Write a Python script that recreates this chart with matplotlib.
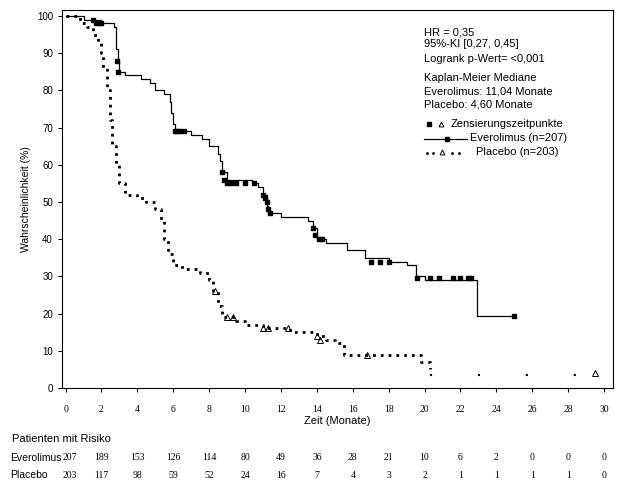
import numpy as np
import matplotlib.pyplot as plt

# Everolimus step curve (time in months, survival %)
evero_t = [0, 1.0, 2.0, 2.7, 2.8, 2.9, 3.0, 3.3, 4.2, 4.7, 5.0, 5.5, 5.8, 5.9, 6.0, 6.1, 7.0, 7.6, 8.0,
           8.5, 8.6, 8.7, 9.0, 10.4, 10.7, 11.0, 11.2, 11.3, 12.0, 13.5, 13.8, 14.0, 14.5, 15.7, 16.7,
           18.0, 19.0, 19.5, 20.0, 22.9, 25.0]
evero_s = [100, 99, 98, 97, 91, 88, 85, 84, 83, 82, 80, 79, 77, 74, 71, 69, 68, 67, 65,
           63, 61, 58, 56, 55, 54, 52, 49, 47, 46, 45, 43, 40, 39, 37, 35,
           34, 33, 30, 29, 19.3, 19.3]
evero_cens_t = [1.5, 1.7, 1.9, 2.0, 2.85, 2.9, 6.1, 6.2, 6.4, 6.6, 8.7, 8.8, 9.0, 9.2, 9.5, 10.0, 10.5,
                11.0, 11.1, 11.2, 11.3, 11.4, 13.8, 13.9, 14.1, 14.3, 17.0, 17.5, 18.0, 19.6, 20.3,
                20.8, 21.6, 22.0, 22.4, 22.6, 25.0]
evero_cens_s = [99, 98, 98, 98, 88, 85, 69, 69, 69, 69, 58, 56, 55, 55, 55, 55, 55,
                52, 51, 50, 48, 47, 43, 41, 40, 40, 34, 34, 34, 29.6, 29.6,
                29.6, 29.6, 29.6, 29.6, 29.6, 19.3]

# Placebo step curve
plac_t = [0, 0.8, 1.2, 1.5, 1.8, 2.0, 2.1, 2.3, 2.5, 2.6, 2.8, 3.0, 3.3, 4.0, 4.5, 5.0, 5.3, 5.5,
          5.7, 6.0, 6.5, 7.5, 8.0, 8.2, 8.5, 8.7, 9.5, 10.0, 11.0, 12.5, 14.0, 14.5, 15.0, 15.5,
          19.8, 20.3]
plac_s = [100, 98, 97, 95, 93, 90, 86, 80, 72, 65, 60, 55, 52, 51, 50, 48, 45, 40,
          36, 33, 32, 31, 29, 26, 22, 19, 18, 17, 16, 15, 14, 13, 12, 9,
          7, 5]
plac_tail_t = [20.3, 29.5]
plac_tail_s = [3.5, 3.5]
plac_cens_t = [8.3, 9.0, 9.3, 11.0, 11.3, 12.4, 14.0, 14.2, 16.8, 29.5]
plac_cens_s = [26, 19, 19, 16, 16, 16, 14, 13, 9, 4]

xticks = list(range(0, 31, 2))
risk_evero = [207, 189, 153, 126, 114, 80, 49, 36, 28, 21, 10, 6, 2, 0, 0, 0]
risk_plac = [203, 117, 98, 59, 52, 24, 16, 7, 4, 3, 2, 1, 1, 1, 1, 0]

sans = 'Liberation Sans'
serif = 'Liberation Serif'

fig = plt.figure(figsize=(6.23, 4.87), dpi=100)
ax = fig.add_axes([62 / 623, 99 / 487, 551 / 623, 378 / 487])

ax.step(evero_t, evero_s, where='post', color='black', lw=0.9)
ax.plot(evero_cens_t, evero_cens_s, 's', color='black', ms=3.5)
ax.step(plac_t, plac_s, where='post', color='black', lw=2, linestyle=(0, (1, 1.8)))
ax.plot(plac_tail_t, plac_tail_s, color='black', lw=1.5, linestyle=(0, (1, 22)))
ax.plot(plac_cens_t, plac_cens_s, '^', mfc='none', mec='black', ms=4, mew=0.7)

ax.set_xlim(-0.2, 30.5)
ax.set_ylim(0, 101.6)
ax.set_xticks(xticks)
ax.set_xticklabels([str(x) for x in xticks], family=serif, fontsize=7)
ax.set_yticks(range(0, 101, 10))
ax.set_yticklabels([str(y) for y in range(0, 101, 10)], family=sans, fontsize=7)
ax.tick_params(axis='x', pad=9, length=3)
ax.tick_params(axis='y', length=3)
ax.set_xlabel('Zeit (Monate)', family=sans, fontsize=8, labelpad=2)
ax.set_ylabel('Wahrscheinlichkeit (%)', family=sans, fontsize=7.5)


def ay(p):
    # pixel row -> axes fraction
    return (388 - p) / 378


def axx(p):
    return (p - 62) / 551


kw = dict(transform=ax.transAxes, family=sans, fontsize=8, va='center')
lines = [(32, 'HR = 0,35'), (44, '95%-KI [0,27, 0,45]'), (59, 'Logrank p-Wert= <0,001'),
         (78, 'Kaplan-Meier Mediane'), (91, 'Everolimus: 11,04 Monate'), (104, 'Placebo: 4,60 Monate')]
for p, s in lines:
    ax.text(axx(424), ay(p), s, **kw)

ax.plot([axx(429)], [ay(124)], 's', color='black', ms=3.5, transform=ax.transAxes)
ax.plot([axx(441)], [ay(124)], '^', mfc='none', mec='black', ms=3.5, mew=0.7, transform=ax.transAxes)
ax.text(axx(451), ay(124), 'Zensierungszeitpunkte', **kw)
ax.plot([axx(424), axx(467)], [ay(139), ay(139)], color='black', lw=0.9, transform=ax.transAxes)
ax.plot([axx(447)], [ay(139)], 's', color='black', ms=3.5, transform=ax.transAxes)
ax.text(axx(470), ay(138), 'Everolimus (n=207)', **kw)
ax.plot([axx(p) for p in (427, 433, 452, 459)], [ay(153)] * 4, '.', color='black', ms=2,
        transform=ax.transAxes)
ax.plot([axx(442)], [ay(152)], '^', mfc='none', mec='black', ms=3.5, mew=0.7, transform=ax.transAxes)
ax.text(axx(476), ay(152), 'Placebo (n=203)', **kw)

# risk table
fig.text(12 / 623, 1 - 439 / 487, 'Patienten mit Risiko', family=sans, fontsize=8, va='center')
fig.text(10 / 623, 1 - 458 / 487, 'Everolimus', family=sans, fontsize=7.5, va='center')
fig.text(10 / 623, 1 - 475 / 487, 'Placebo', family=sans, fontsize=7.5, va='center')
for x, a, b in zip(xticks, risk_evero, risk_plac):
    px = ax.transData.transform((x, 0))[0] / fig.bbox.width
    if x == 0:
        px += 4 / 623
    fig.text(px, 1 - 458 / 487, str(a), family=serif, fontsize=7, ha='center', va='center')
    fig.text(px, 1 - 475 / 487, str(b), family=serif, fontsize=7, ha='center', va='center')

fig.savefig('out.png', dpi=100)
